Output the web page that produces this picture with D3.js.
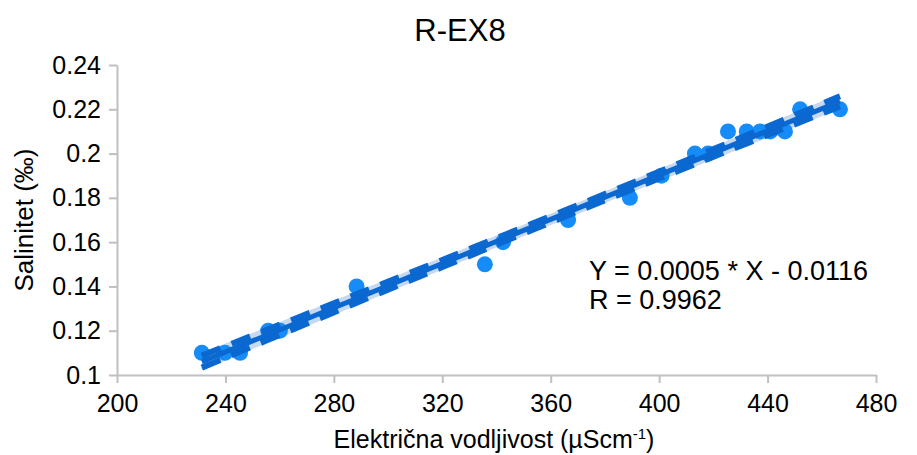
<!DOCTYPE html>
<html><head><meta charset="utf-8">
<script src="https://cdn.jsdelivr.net/npm/d3@7"></script>
<style>body{margin:0;background:#fff}svg{font-family:"Liberation Sans",Arial,sans-serif}</style>
</head><body><svg id="c" width="917" height="455"></svg>
<script>
const conductivity = [231.3,239.8,245.4,255.8,260.1,288.4,335.7,342.4,366.4,389.2,400.9,413.2,418.0,425.4,432.3,437.2,441.0,446.4,452.0,466.7];
const salinity     = [0.11,0.11,0.11,0.12,0.12,0.14,0.15,0.16,0.17,0.18,0.19,0.20,0.20,0.21,0.21,0.21,0.21,0.21,0.22,0.22];
const xTicks = [200,240,280,320,360,400,440,480];
const yTicks = [0.1,0.12,0.14,0.16,0.18,0.2,0.22,0.24];
const titleText = "R-EX8";
const eqLines = ["Y = 0.0005 * X - 0.0116","R = 0.9962"];

const svg = d3.select("#c");
const x = d3.scaleLinear().domain([200,480]).range([117,876]);
const y = d3.scaleLinear().domain([0.1,0.24]).range([375,65]);

// regression
const n = conductivity.length;
const xm = d3.mean(conductivity), ym = d3.mean(salinity);
let sxx=0, sxy=0;
conductivity.forEach((v,i)=>{sxx+=(v-xm)**2; sxy+=(v-xm)*(salinity[i]-ym);});
const b = sxy/sxx, a = ym - b*xm;
let sse=0; conductivity.forEach((v,i)=>{sse+=(salinity[i]-(a+b*v))**2;});
const s = Math.sqrt(sse/(n-2)), t = 1.6;
const [x0,x1] = d3.extent(conductivity);
const xs = d3.range(0,41).map(i=>x0+(x1-x0)*i/40);
const ci = v => t*s*Math.sqrt(1/n+(v-xm)**2/sxx);

// band
svg.append("path")
  .datum(xs)
  .attr("d", d3.area().x(v=>x(v)).y0(v=>y(a+b*v-ci(v)-0.0012)).y1(v=>y(a+b*v+ci(v)+0.0012)))
  .attr("fill","#b8d0ee").attr("opacity",0.8);

// points
svg.append("g").selectAll("circle").data(conductivity).join("circle")
  .attr("cx",d=>x(d)).attr("cy",(d,i)=>y(salinity[i])).attr("r",8)
  .attr("fill","#158cf8");

// fit line
svg.append("line").attr("x1",x(x0)).attr("y1",y(a+b*x0)).attr("x2",x(x1)).attr("y2",y(a+b*x1))
  .attr("stroke","#0a68d0").attr("stroke-width",5);
// dashed CI lines
[-1,1].forEach(sg=>{
  svg.append("path").datum(xs)
    .attr("d", d3.line().x(v=>x(v)).y(v=>y(a+b*v+sg*ci(v))))
    .attr("fill","none").attr("stroke","#0a68d0").attr("stroke-width",6)
    .attr("stroke-dasharray","20,12");
});

// axes
const gx = svg.append("g").attr("transform","translate(0,375)")
  .call(d3.axisBottom(x).tickValues(xTicks).tickSize(8).tickSizeOuter(0).tickPadding(8));
const gy = svg.append("g").attr("transform","translate(117,0)")
  .call(d3.axisLeft(y).tickValues(yTicks).tickSize(8).tickSizeOuter(0).tickPadding(8).tickFormat(d=>String(+d.toFixed(2))));
[gx,gy].forEach(g=>{
  g.selectAll("path,line").attr("stroke","#c0c0c0").attr("stroke-width",2);
  g.selectAll("text").attr("font-size",25).attr("fill","#000").attr("font-family","Liberation Sans, Arial, sans-serif");
});
gx.selectAll("text").attr("dy","0.85em");

svg.append("text").attr("x",460).attr("y",41).attr("text-anchor","middle")
  .attr("font-size",31).text(titleText);

const xl = svg.append("text").attr("x",494).attr("y",448).attr("text-anchor","middle").attr("font-size",25);
xl.append("tspan").text("Električna vodljivost (µScm");
xl.append("tspan").attr("font-size",15).attr("dy",-9).text("-1");
xl.append("tspan").attr("dy",9).text(")");

svg.append("text").attr("transform","translate(33,220) rotate(-90)").attr("text-anchor","middle")
  .attr("font-size",26).text("Salinitet (‰)");

svg.append("g").selectAll("text").data(eqLines).join("text")
  .attr("x",589).attr("y",(d,i)=>280+i*29).attr("font-size",27).text(d=>d);
</script></body></html>
